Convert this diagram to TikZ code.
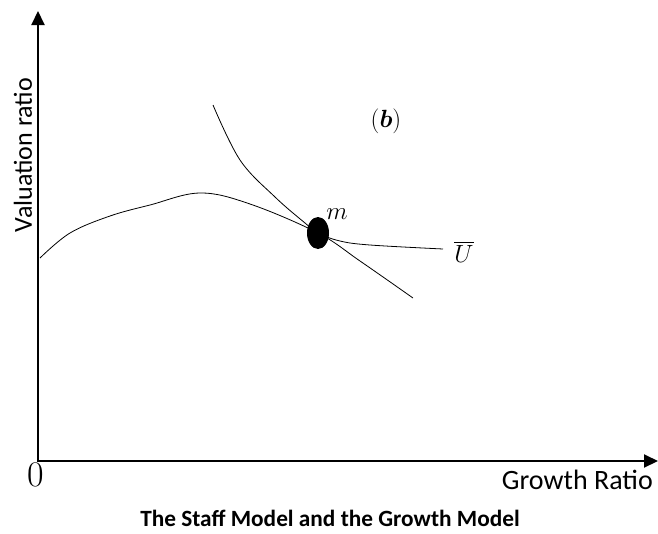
\documentclass[tikz,border=0pt]{standalone}
\usepackage{amsmath}
\usepackage{fontspec}
\newfontfamily\calfont{Carlito}
\usetikzlibrary{arrows.meta,positioning,shapes.geometric}

\begin{document}
\begin{tikzpicture}[
  x=1pt, y=-1pt,
  axis/.style={-{Triangle[length=14pt,width=13pt]}, line width=2pt},
  curve/.style={line width=0.8pt},
  lbl/.style={font=\calfont\fontsize{26}{28}\selectfont, inner sep=0pt},
  mathlbl/.style={font=\fontsize{24}{26}\selectfont, inner sep=0pt}
]
\useasboundingbox (0,0) rectangle (658,533);
% axes
\coordinate (origin) at (38,461);
\coordinate (ytop) at (38,11);
\coordinate (xend) at (658,461);
\draw[axis] (origin) -- (ytop);
\draw[axis] ([xshift=-1pt]origin) -- (xend);

% curves
\draw[curve] plot[smooth, tension=0.6] coordinates {(40,258) (70,233) (110,216) (150,205) (200,193) (250,204) (318,233) (360,261) (413,298)};
\draw[curve] plot[smooth, tension=0.6] coordinates {(213,105) (240,160) (275,197) (305,223) (318,233) (340,241) (370,245) (443,249)};
\node[ellipse, fill=black, minimum width=22pt, minimum height=32pt, inner sep=0pt] (m) at (318,233) {};

% labels
\node[inner sep=0pt, font=\fontsize{36}{38}\selectfont] (zero) at (36,475) {0};
\node[lbl, anchor=east, font=\calfont\fontsize{28}{30}\selectfont] (xlab) at (653,480) {Growth Ratio};
\node[lbl, rotate=90] (ylab) at (23,155) {Valuation ratio};
\node[lbl, font=\calfont\bfseries\fontsize{23.3}{26}\selectfont] (title) at (330,518) {The Staff Model and the Growth Model};
\node[mathlbl] (mlab) at (337,214) {$m$};
\node[mathlbl] (ulab) at (464,252) {$\overline{U}$};
\node[mathlbl] (blab) at (386,121) {$(\boldsymbol{b})$};
\end{tikzpicture}
\end{document}
